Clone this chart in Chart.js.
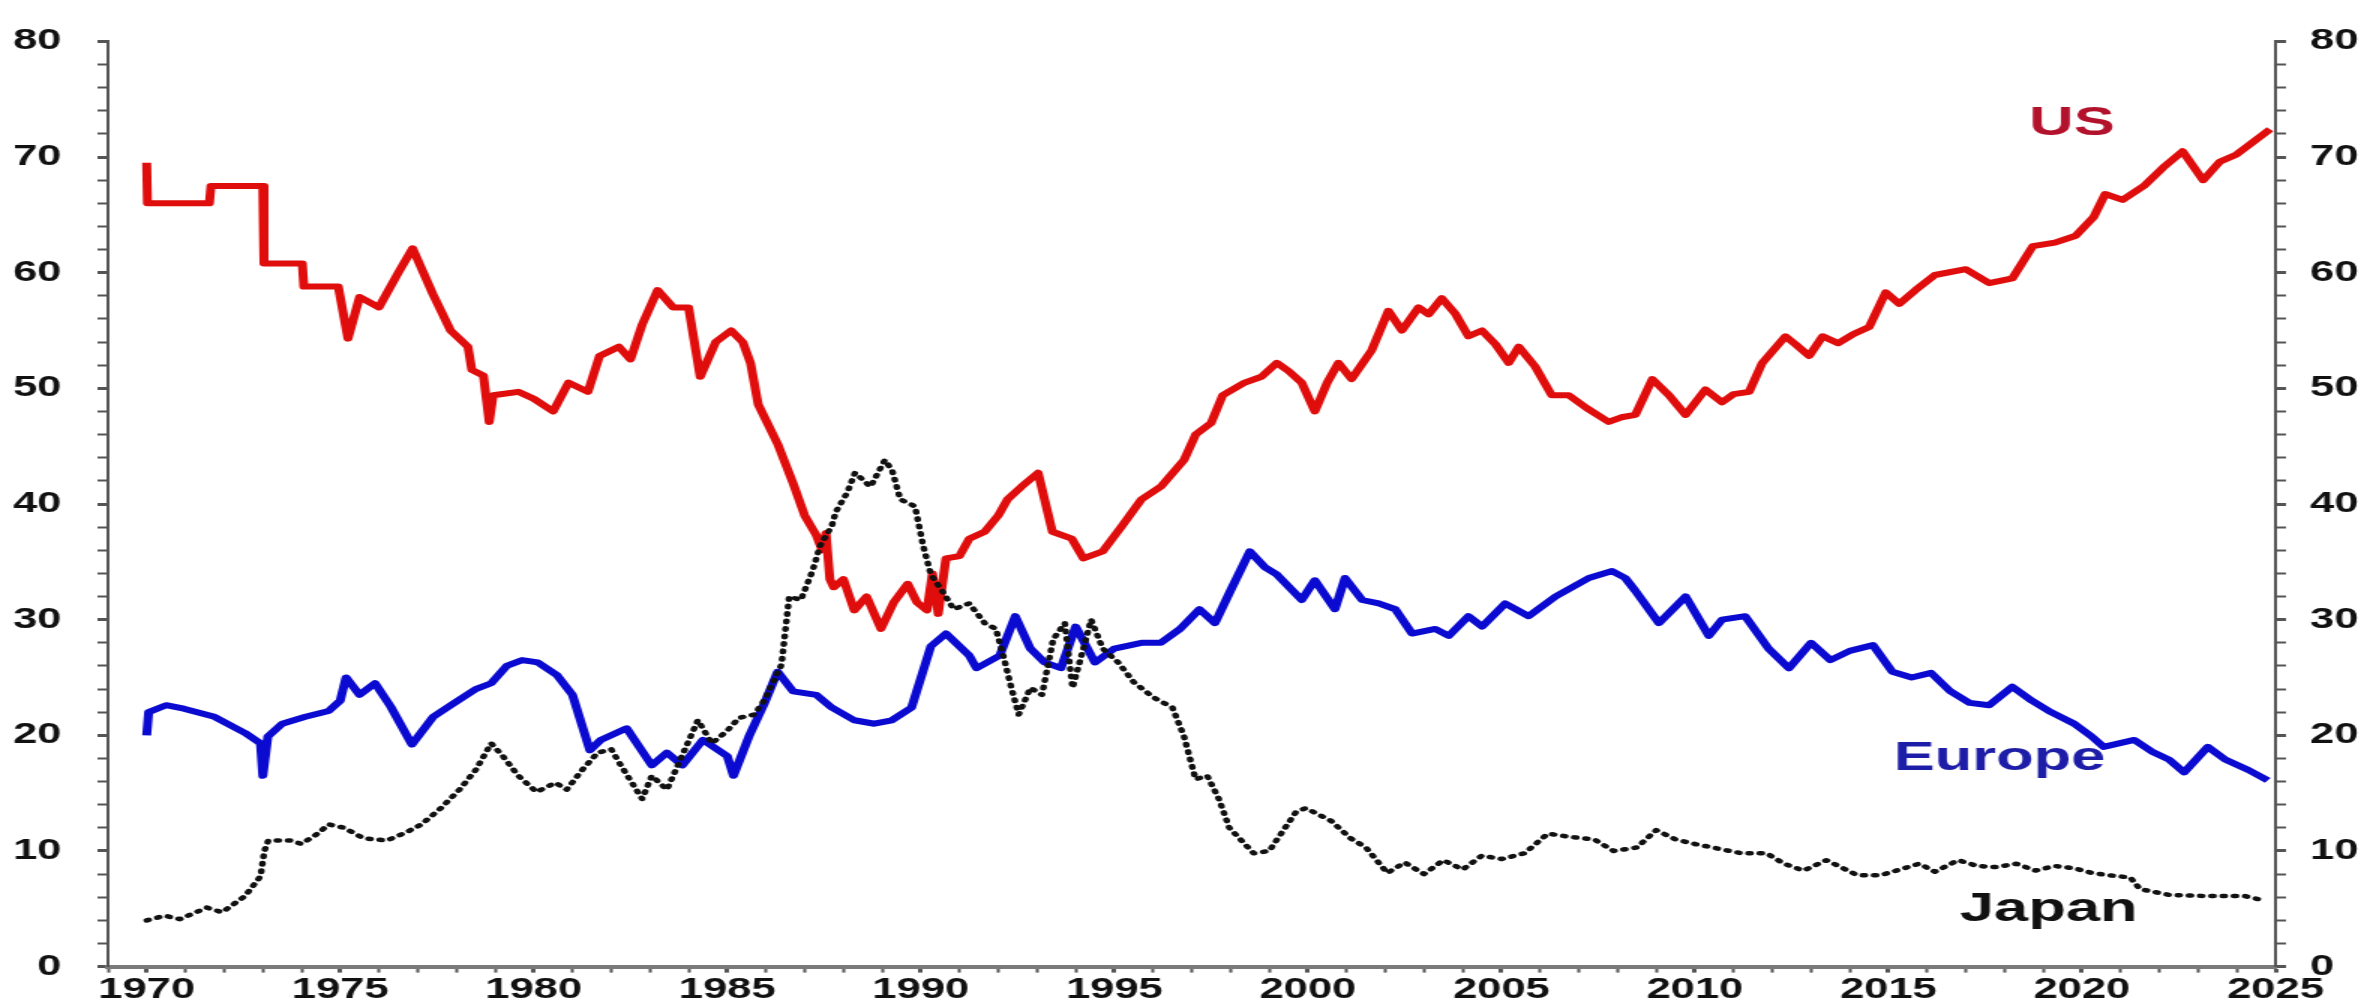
<!DOCTYPE html>
<html>
<head>
<meta charset="utf-8">
<script src="https://cdn.jsdelivr.net/npm/chart.js@4.4.1/dist/chart.umd.min.js"></script>
<style>
  html, body { margin: 0; padding: 0; background: #fff; overflow: hidden; }
  /* the original picture is stretched sideways, so draw narrow and scale it out */
  #wrap { width: 1576px; height: 1008px; transform: scaleX(1.5); transform-origin: 0 0; }
</style>
</head>
<body>
<div id="wrap"><canvas id="grafico"></canvas></div>
<script>
// US share (%)
var usYears = [1970.0, 1970.02, 1971.62, 1971.66, 1973.0, 1973.03, 1974.02, 1974.06, 1974.95, 1975.2,
  1975.5, 1976.0, 1976.5, 1976.87, 1977.4, 1977.85, 1978.3, 1978.4, 1978.7, 1978.85,
  1978.95, 1979.6, 1980.0, 1980.5, 1980.9, 1981.4, 1981.7, 1982.2, 1982.5, 1982.8,
  1983.2, 1983.6, 1984.0, 1984.3, 1984.7, 1985.1, 1985.4, 1985.6, 1985.8, 1986.3,
  1986.7, 1987.0, 1987.3, 1987.45, 1987.55, 1987.65, 1987.75, 1988.0, 1988.28, 1988.6,
  1988.97, 1989.3, 1989.66, 1989.9, 1990.16, 1990.3, 1990.45, 1990.65, 1991.0, 1991.25,
  1991.65, 1992.0, 1992.24, 1992.6, 1993.03, 1993.4, 1993.9, 1994.2, 1994.7, 1995.2,
  1995.7, 1996.2, 1996.8, 1997.1, 1997.5, 1997.8, 1998.37, 1998.8, 1999.2, 1999.5,
  1999.84, 2000.18, 2000.5, 2000.79, 2001.13, 2001.65, 2002.08, 2002.43, 2002.86, 2003.12,
  2003.46, 2003.8, 2004.15, 2004.5, 2004.85, 2005.19, 2005.45, 2005.87, 2006.3, 2006.74,
  2007.2, 2007.77, 2008.1, 2008.46, 2008.9, 2009.33, 2009.76, 2010.27, 2010.7, 2011.0,
  2011.4, 2011.74, 2012.34, 2012.6, 2012.95, 2013.3, 2013.7, 2014.1, 2014.5, 2014.93,
  2015.28, 2015.7, 2016.2, 2017.0, 2017.6, 2018.2, 2018.73, 2019.3, 2019.84, 2020.3,
  2020.6, 2021.05, 2021.6, 2022.1, 2022.6, 2023.13, 2023.56, 2023.98, 2024.3, 2024.86];
var usValues = [69.5, 66.0, 66.0, 67.5, 67.5, 60.8, 60.8, 58.8, 58.8, 54.3,
  57.9, 57.0, 60.0, 62.1, 58.1, 55.0, 53.6, 51.6, 51.1, 47.1,
  49.4, 49.7, 49.1, 48.0, 50.5, 49.7, 52.8, 53.6, 52.5, 55.5,
  58.5, 57.0, 57.0, 51.0, 54.0, 55.0, 54.0, 52.2, 48.6, 45.2,
  41.8, 39.0, 37.3, 36.0, 37.5, 33.5, 32.8, 33.5, 30.8, 32.0,
  29.2, 31.5, 33.1, 31.5, 30.8, 34.0, 30.5, 35.3, 35.5, 37.0,
  37.6, 39.0, 40.4, 41.5, 42.7, 37.6, 37.0, 35.3, 35.9, 38.1,
  40.4, 41.5, 43.8, 46.0, 47.0, 49.4, 50.5, 51.0, 52.2, 51.5,
  50.5, 48.0, 50.5, 52.2, 50.8, 53.3, 56.7, 55.0, 57.0, 56.4,
  57.8, 56.5, 54.5, 55.0, 53.8, 52.2, 53.6, 51.9, 49.4, 49.4,
  48.3, 47.1, 47.5, 47.7, 50.8, 49.4, 47.7, 49.9, 48.8, 49.5,
  49.7, 52.2, 54.5, 53.8, 52.8, 54.5, 53.9, 54.7, 55.3, 58.3,
  57.3, 58.5, 59.8, 60.3, 59.1, 59.5, 62.3, 62.6, 63.2, 64.8,
  66.8, 66.3, 67.5, 69.1, 70.5, 68.0, 69.6, 70.2, 71.0, 72.4];

// Europe share (%)
var euYears = [1970.0, 1970.05, 1970.5, 1970.96, 1971.75, 1972.54, 1972.94, 1973.0, 1973.13, 1973.5,
  1974.1, 1974.7, 1975.0, 1975.15, 1975.5, 1975.9, 1976.3, 1976.85, 1977.4, 1977.9,
  1978.5, 1978.9, 1979.3, 1979.7, 1980.1, 1980.6, 1981.0, 1981.45, 1981.73, 1982.4,
  1983.05, 1983.44, 1983.84, 1984.37, 1985.0, 1985.16, 1985.56, 1985.95, 1986.3, 1986.7,
  1987.3, 1987.7, 1988.28, 1988.8, 1989.25, 1989.76, 1990.26, 1990.65, 1991.25, 1991.44,
  1992.04, 1992.44, 1992.83, 1993.2, 1993.62, 1994.0, 1994.5, 1995.0, 1995.7, 1996.2,
  1996.7, 1997.2, 1997.6, 1998.0, 1998.5, 1998.9, 1999.2, 1999.84, 2000.18, 2000.7,
  2000.96, 2001.4, 2001.83, 2002.26, 2002.69, 2003.29, 2003.64, 2004.15, 2004.5, 2005.1,
  2005.7, 2006.4, 2007.26, 2007.86, 2008.2, 2008.46, 2009.07, 2009.76, 2010.36, 2010.7,
  2011.3, 2011.9, 2012.43, 2013.0, 2013.5, 2014.0, 2014.6, 2015.1, 2015.6, 2016.1,
  2016.6, 2017.1, 2017.6, 2018.2, 2018.7, 2019.2, 2019.8, 2020.25, 2020.56, 2021.35,
  2021.8, 2022.25, 2022.64, 2023.25, 2023.7, 2024.3, 2024.8];
var euValues = [20.0, 22.0, 22.6, 22.3, 21.6, 20.2, 19.3, 16.5, 19.9, 21.0,
  21.6, 22.1, 23.0, 25.0, 23.5, 24.5, 22.5, 19.2, 21.6, 22.7,
  24.0, 24.5, 26.0, 26.5, 26.3, 25.2, 23.5, 18.7, 19.6, 20.6,
  17.4, 18.5, 17.4, 19.6, 18.2, 16.5, 19.9, 22.7, 25.5, 23.8,
  23.5, 22.4, 21.3, 21.0, 21.3, 22.4, 27.7, 28.8, 26.9, 25.8,
  26.9, 30.3, 27.5, 26.3, 25.8, 29.4, 26.3, 27.5, 28.0, 28.0,
  29.2, 30.9, 29.7, 32.5, 35.9, 34.5, 33.9, 31.7, 33.4, 30.9,
  33.6, 31.7, 31.4, 30.9, 28.8, 29.2, 28.6, 30.3, 29.4, 31.4,
  30.3, 32.0, 33.6, 34.2, 33.6, 32.5, 29.7, 32.0, 28.6, 30.0,
  30.3, 27.5, 25.8, 28.0, 26.5, 27.3, 27.8, 25.5, 25.0, 25.4,
  23.8, 22.8, 22.6, 24.2, 23.0, 22.0, 21.0, 19.9, 19.0, 19.6,
  18.6, 17.9, 16.8, 19.0, 17.9, 17.0, 16.1];

// Japan share (%)
var jpYears = [1970.0, 1970.46, 1970.86, 1971.55, 1971.95, 1972.54, 1972.94, 1973.04, 1973.14, 1973.73,
  1974.0, 1974.42, 1974.7, 1975.1, 1975.6, 1976.2, 1976.7, 1977.1, 1977.6, 1978.08,
  1978.5, 1978.9, 1979.2, 1979.6, 1980.07, 1980.56, 1980.85, 1981.25, 1981.65, 1982.0,
  1982.25, 1982.8, 1983.05, 1983.44, 1983.8, 1984.24, 1984.6, 1985.0, 1985.3, 1985.7,
  1985.95, 1986.4, 1986.6, 1986.9, 1987.2, 1987.4, 1987.7, 1987.8, 1988.1, 1988.3,
  1988.7, 1989.07, 1989.26, 1989.47, 1989.85, 1990.06, 1990.26, 1990.55, 1990.85, 1991.25,
  1991.65, 1991.94, 1992.13, 1992.34, 1992.53, 1992.83, 1993.13, 1993.42, 1993.72, 1993.92,
  1994.2, 1994.4, 1994.7, 1995.1, 1995.5, 1996.0, 1996.5, 1996.8, 1997.1, 1997.4,
  1997.7, 1997.97, 1998.6, 1999.0, 1999.7, 1999.95, 2000.6, 2001.1, 2001.5, 2002.05,
  2002.5, 2003.0, 2003.5, 2004.0, 2004.5, 2005.0, 2005.6, 2006.2, 2006.8, 2007.4,
  2007.9, 2008.5, 2009.0, 2009.5, 2010.0, 2010.6, 2011.2, 2011.85, 2012.3, 2012.8,
  2013.4, 2014.2, 2014.8, 2015.3, 2015.8, 2016.2, 2016.8, 2017.3, 2017.8, 2018.3,
  2018.8, 2019.3, 2019.8, 2020.25, 2020.7, 2021.25, 2021.5, 2022.25, 2023.2, 2024.2,
  2024.6];
var jpValues = [4.0, 4.4, 4.1, 5.1, 4.7, 6.1, 7.8, 10.0, 10.9, 10.9,
  10.6, 11.5, 12.3, 12.0, 11.1, 10.9, 11.6, 12.3, 13.7, 15.3,
  17.0, 19.3, 18.2, 16.5, 15.1, 15.9, 15.3, 17.0, 18.5, 18.8,
  17.4, 14.5, 16.5, 15.3, 18.0, 21.3, 19.3, 20.4, 21.5, 21.8,
  23.0, 26.1, 32.0, 31.7, 34.2, 36.4, 38.1, 39.3, 41.0, 42.7,
  41.5, 43.8, 42.9, 40.4, 39.8, 36.4, 33.9, 32.5, 30.9, 31.4,
  29.7, 29.2, 26.9, 24.1, 21.8, 24.1, 23.5, 28.3, 29.7, 24.1,
  27.5, 30.0, 27.5, 26.3, 24.6, 23.3, 22.4, 19.9, 16.2, 16.5,
  14.5, 12.0, 9.8, 10.0, 13.4, 13.7, 12.6, 11.1, 10.3, 8.1,
  9.0, 8.0, 9.2, 8.4, 9.6, 9.3, 9.8, 11.5, 11.2, 11.0,
  10.0, 10.3, 11.8, 11.0, 10.6, 10.2, 9.8, 9.8, 8.9, 8.3,
  9.2, 7.9, 7.9, 8.4, 8.9, 8.2, 9.2, 8.7, 8.6, 8.9,
  8.3, 8.7, 8.5, 8.1, 7.9, 7.7, 6.7, 6.2, 6.1, 6.1,
  5.8];

// series names written on the chart
var seriesNames = ['US', 'Europe', 'Japan'];

var fuente = '"Liberation Sans", Arial, sans-serif';

function puntos(xs, ys) {
  var out = [];
  for (var i = 0; i < xs.length; i++) out.push({x: xs[i], y: ys[i]});
  return out;
}

function tickAncho(ctx) {
  return (ctx.tick && ctx.tick.value % 5 == 0) ? 3 : 2;
}

// names placed next to the lines (x = year, y = baseline value)
var etiquetas = {
  id: 'etiquetas',
  beforeDatasetsDraw: function(chart) {
    var c = chart.ctx;
    var sx = chart.scales.x, sy = chart.scales.yL;
    var pos = [[2019.74, 71.9, '#b3122c'], [2017.87, 17.0, '#1d1da8'], [2019.14, 3.9, '#111111']];
    c.save();
    c.font = 'bold 41px ' + fuente;
    c.textAlign = 'center';
    c.textBaseline = 'alphabetic';
    for (var i = 0; i < pos.length; i++) {
      c.fillStyle = pos[i][2];
      c.fillText(seriesNames[i], sx.getPixelForValue(pos[i][0]), sy.getPixelForValue(pos[i][1]));
    }
    c.restore();
  }
};

var ctx = document.getElementById('grafico').getContext('2d');
var grafico = new Chart(ctx, {
  type: 'line',
  data: {
    datasets: [
      {label: seriesNames[2], data: puntos(jpYears, jpValues), borderColor: '#111', borderWidth: 4.5,
       borderDash: [1.5, 6], borderCapStyle: 'round', order: 0, yAxisID: 'yL'},
      {label: seriesNames[1], data: puntos(euYears, euValues), borderColor: '#0a0ad0', borderWidth: 6,
       order: 2, yAxisID: 'yL'},
      {label: seriesNames[0], data: puntos(usYears, usValues), borderColor: '#e00d0d', borderWidth: 6,
       order: 1, yAxisID: 'yL'}
    ]
  },
  options: {
    responsive: true,
    maintainAspectRatio: false,
    devicePixelRatio: 1,
    animation: false,
    layout: {padding: {top: 20, left: 0, right: 0, bottom: 0}},
    elements: {point: {radius: 0}, line: {tension: 0, borderJoinStyle: 'round'}},
    plugins: {legend: {display: false}, tooltip: {enabled: false}},
    scales: {
      x: {
        type: 'linear', min: 1969, max: 2025,
        afterFit: function(a) { a.height = 39; },
        grid: {drawOnChartArea: false, drawTicks: true, tickLength: 6, tickColor: '#555', tickWidth: tickAncho},
        border: {display: true, color: '#7a7a7a', width: 4},
        ticks: {
          stepSize: 1, autoSkip: false, maxRotation: 0, minRotation: 0, padding: 0,
          color: '#111', font: {family: fuente, size: 29, weight: 'bold'},
          callback: function(v) { return v % 5 == 0 ? String(v) : ''; }
        }
      },
      yL: {
        type: 'linear', position: 'left', min: 0, max: 80,
        afterFit: function(a) { a.width = 72; },
        grid: {drawOnChartArea: false, drawTicks: true, tickLength: 7, tickColor: '#555', tickWidth: tickAncho},
        border: {display: true, color: '#555', width: 2},
        ticks: {
          stepSize: 2, autoSkip: false, padding: 24,
          color: '#111', font: {family: fuente, size: 29, weight: 'bold'},
          callback: function(v) { return v % 10 == 0 ? String(v) : ''; }
        }
      },
      yR: {
        type: 'linear', position: 'right', min: 0, max: 80,
        afterFit: function(a) { a.width = 59; },
        grid: {drawOnChartArea: false, drawTicks: true, tickLength: 7, tickColor: '#555', tickWidth: tickAncho},
        border: {display: true, color: '#555', width: 2},
        ticks: {
          stepSize: 2, autoSkip: false, padding: 16,
          color: '#111', font: {family: fuente, size: 29, weight: 'bold'},
          callback: function(v) { return v % 10 == 0 ? String(v) : ''; }
        }
      }
    }
  },
  plugins: [etiquetas]
});
</script>
</body>
</html>
